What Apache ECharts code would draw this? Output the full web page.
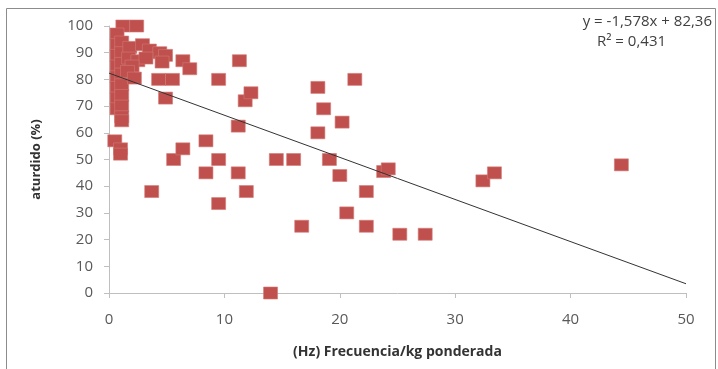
<!DOCTYPE html>
<html><head><meta charset="utf-8">
<script src="https://cdn.jsdelivr.net/npm/echarts@6/dist/echarts.min.js"></script>
<style>html,body{margin:0;padding:0;background:#fff}#c{width:718px;height:369px}</style>
</head><body><div id="c"></div>
<script>
// Frecuencia/kg ponderada (Hz)
const xVals = [14,16.7,22.3,25.2,27.4,20.6,9.5,3.7,11.9,22.3,32.4,33.4,44.4,23.8,24.2,8.4,11.2,20,5.6,9.5,14.5,16,19.1,6.4,8.4,18.1,11.2,20.2,18.6,11.8,12.3,18.1,21.3,9.5,11.3,4.9,6.4,7,
  1.2,2.4,
  0.7,0.7,0.7,0.7,0.7,0.7,0.7,0.7,
  1.1,1.1,1.1,1.1,1.1,1.1,1.1,1.1,1.1,
  0.5,1.0,1.0,
  1.8,2.9,3.5,4.4,4.9,4.6,1.7,2.5,3.2,2.0,1.6,2.2,4.3,5.5];
// aturdido (%)
const yVals = [0,25,25,22,22,30,33.5,38,38,38,42,45,48,45.5,46.5,45,45,44,50,50,50,50,50,54,57,60,62.5,64,69,72,75,77,80,80,87,73,87,84,
  100,100,
  97,93,89,85,81,77,73,69,
  94,90,86,82,78,74,70,66,64.5,
  57,54,52,
  92,93,91,90,89,86.5,88,87,88,85,83,80.5,80,80];
// linear trend y = -1,578x + 82,36
const trendX = [0, 50];
const trendY = [82.36, 3.46];
const eqLines = ['y = -1,578x + 82,36', 'R² = 0,431'];
const xAxisName = '(Hz) Frecuencia/kg ponderada';
const yAxisName = 'aturdido (%)';

const chart = echarts.init(document.getElementById('c'));
const font = '"Open Sans", sans-serif';
chart.setOption({
  animation: false,
  backgroundColor: '#fff',
  grid: {left: 109, right: 32, top: 26, bottom: 76},
  xAxis: {
    type: 'value', min: 0, max: 50, interval: 10,
    name: xAxisName, nameLocation: 'middle', nameGap: 52,
    nameTextStyle: {fontFamily: font, fontWeight: 'bold', fontSize: 14, color: '#333'},
    axisLine: {show: true, lineStyle: {color: '#bfbfbf'}},
    axisTick: {show: true, length: 5, lineStyle: {color: '#bfbfbf'}},
    axisLabel: {fontFamily: font, fontSize: 15, color: '#595959', margin: 19},
    splitLine: {show: false}
  },
  yAxis: {
    type: 'value', min: 0, max: 100, interval: 10,
    name: yAxisName, nameLocation: 'middle', nameGap: 66, nameRotate: 90,
    nameTextStyle: {fontFamily: font, fontWeight: 'bold', fontSize: 13, color: '#333'},
    axisLine: {show: true, lineStyle: {color: '#bfbfbf'}},
    axisTick: {show: true, length: 5, lineStyle: {color: '#bfbfbf'}},
    axisLabel: {fontFamily: font, fontSize: 15, color: '#595959', margin: 16},
    splitLine: {show: false}
  },
  graphic: [
    {type: 'rect', shape: {x: 6.5, y: 8.5, width: 709, height: 380}, style: {fill: 'none', stroke: '#8c8c8c', lineWidth: 1}, z: -1},
    {type: 'text', right: 6, top: 14, style: {text: eqLines[0], font: '15px ' + font, fill: '#404040', textAlign: 'right'}},
    {type: 'text', left: 597, top: 34, style: {text: eqLines[1], font: '15px ' + font, fill: '#404040'}}
  ],
  series: [
    {
      type: 'scatter', symbol: 'rect', symbolSize: [14, 12],
      itemStyle: {color: '#c0504d', borderColor: '#d27a77', borderWidth: 0.6, opacity: 1},
      data: xVals.map((x, i) => [x, yVals[i]]), z: 2
    },
    {
      type: 'line', symbol: 'none', lineStyle: {color: '#333', width: 1},
      data: trendX.map((x, i) => [x, trendY[i]]), z: 3
    }
  ]
});
</script></body></html>
